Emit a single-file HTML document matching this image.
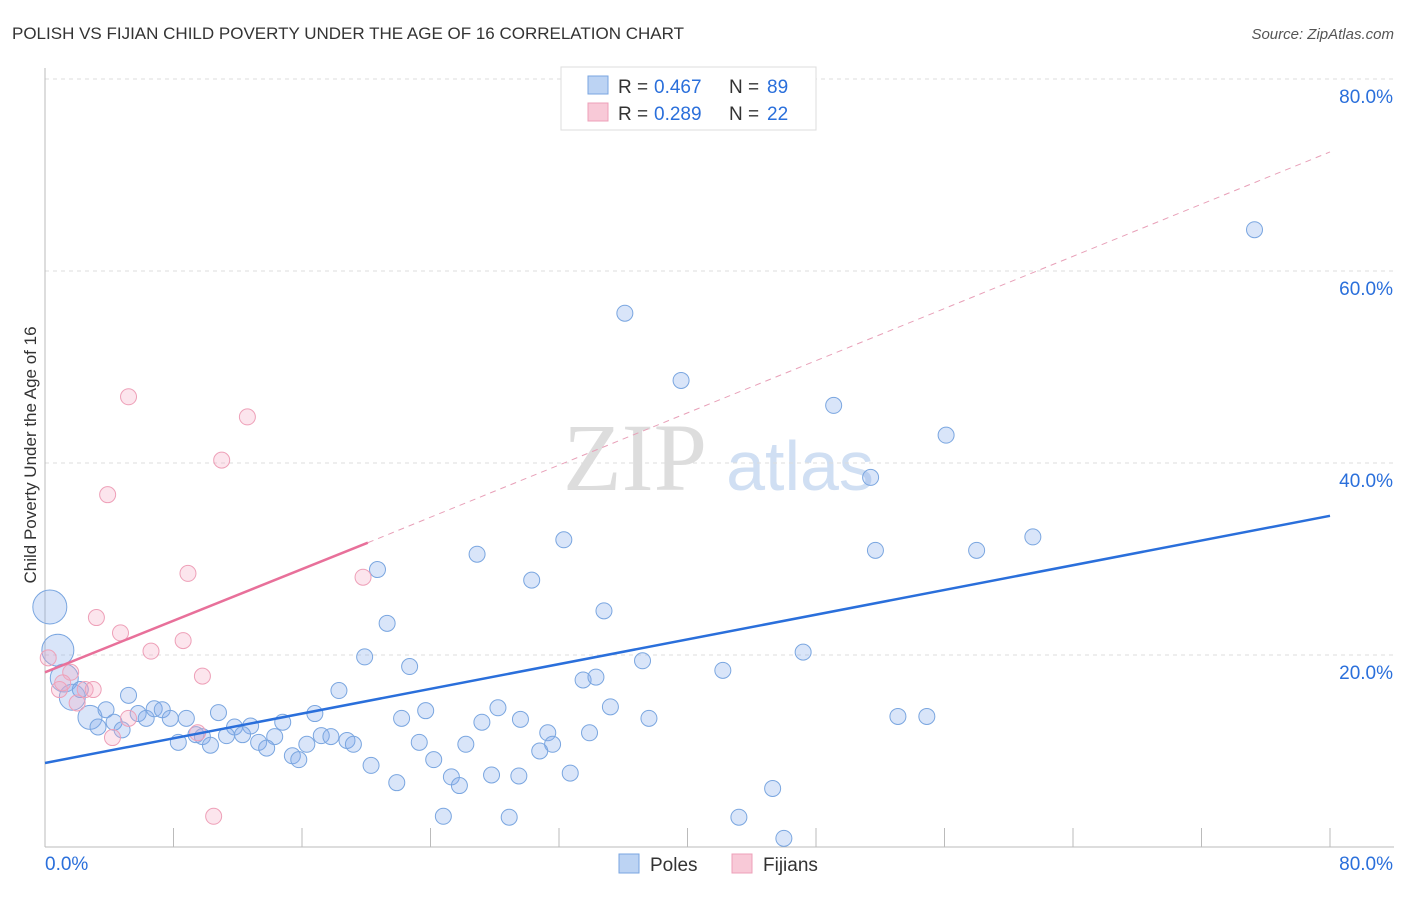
<!DOCTYPE html>
<html><head><meta charset="utf-8"><style>
body{margin:0;background:#fff;font-family:"Liberation Sans",sans-serif}
</style></head><body>
<svg id="c" width="1406" height="892" xmlns="http://www.w3.org/2000/svg" style="font-family:'Liberation Sans',sans-serif">
<text x="12" y="39" font-size="17" fill="#333">POLISH VS FIJIAN CHILD POVERTY UNDER THE AGE OF 16 CORRELATION CHART</text>
<text x="1394" y="39" font-size="15" fill="#555" text-anchor="end" font-style="italic">Source: ZipAtlas.com</text>
<text x="36" y="455" font-size="17" fill="#333" text-anchor="middle" transform="rotate(-90 36 455)">Child Poverty Under the Age of 16</text>
<text x="635" y="490" font-size="96" fill="#ddd" font-family="Liberation Serif" text-anchor="middle">ZIP</text>
<text x="800" y="490" font-size="70" fill="#d0dff3" text-anchor="middle">atlas</text>
<g id="grid"></g><g id="axes"></g><g id="pts"></g><g id="lines"></g>
<g>
<rect x="561" y="67" width="255" height="63" fill="#fff" stroke="#ddd"/>
<rect x="588" y="76" width="20" height="18" fill="#bcd3f3" stroke="#7aa6e0"/>
<text x="618" y="93" font-size="19" fill="#333">R =</text>
<text x="654" y="93" font-size="19" fill="#2a6fdb">0.467</text>
<text x="729" y="93" font-size="19" fill="#333">N =</text>
<text x="767" y="93" font-size="19" fill="#2a6fdb">89</text>
<rect x="588" y="103" width="20" height="18" fill="#f8c9d7" stroke="#eea0b8"/>
<text x="618" y="120" font-size="19" fill="#333">R =</text>
<text x="654" y="120" font-size="19" fill="#2a6fdb">0.289</text>
<text x="729" y="120" font-size="19" fill="#333">N =</text>
<text x="767" y="120" font-size="19" fill="#2a6fdb">22</text>
</g>
<g>
<rect x="619" y="854" width="20" height="19" fill="#bcd3f3" stroke="#7aa6e0"/>
<text x="650" y="871" font-size="19" fill="#333">Poles</text>
<rect x="732" y="854" width="20" height="19" fill="#f8c9d7" stroke="#eea0b8"/>
<text x="763" y="871" font-size="19" fill="#333">Fijians</text>
</g>
</svg>
<script>
const poles=[[75.3,64.3],[36.1,55.6],[39.6,48.6],[49.1,46.0],[56.1,42.9],[51.4,38.5],[32.3,32.0],[26.9,30.5],[51.7,30.9],[58.0,30.9],[61.5,32.3],[20.7,28.9],[30.3,27.8],[34.8,24.6],[21.3,23.3],[19.9,19.8],[22.7,18.8],[37.2,19.4],[42.2,18.4],[47.2,20.3],[33.5,17.4],[34.3,17.7],[18.3,16.3],[35.2,14.6],[28.2,14.5],[23.7,14.2],[16.8,13.9],[22.2,13.4],[27.2,13.0],[29.6,13.3],[37.6,13.4],[53.1,13.6],[54.9,13.6],[14.8,13.0],[31.3,11.9],[33.9,11.9],[12.8,12.6],[11.8,12.5],[10.8,14.0],[14.3,11.5],[12.3,11.7],[11.3,11.6],[17.2,11.6],[17.8,11.5],[18.8,11.1],[19.2,10.7],[16.3,10.7],[13.3,10.9],[13.8,10.3],[23.3,10.9],[26.2,10.7],[31.6,10.7],[30.8,10.0],[15.4,9.5],[15.8,9.1],[24.2,9.1],[20.3,8.5],[25.3,7.3],[25.8,6.4],[27.8,7.5],[29.5,7.4],[32.7,7.7],[21.9,6.7],[45.3,6.1],[24.8,3.2],[28.9,3.1],[43.2,3.1],[46.0,0.9],[0.3,25.0],[0.8,20.5],[1.2,17.6],[1.7,15.6],[2.2,16.4],[2.8,13.5],[3.3,12.5],[3.8,14.3],[4.3,13.0],[4.8,12.2],[5.2,15.8],[5.8,13.9],[6.3,13.4],[6.8,14.4],[7.3,14.3],[7.8,13.4],[8.3,10.9],[8.8,13.4],[9.4,11.7],[9.8,11.5],[10.3,10.6]];
const poleSizes={68:17,69:16,70:14,71:13,73:12};
const fijians=[[5.2,46.9],[12.6,44.8],[11.0,40.3],[3.9,36.7],[8.9,28.5],[19.8,28.1],[3.2,23.9],[4.7,22.3],[8.6,21.5],[6.6,20.4],[9.8,17.8],[0.2,19.7],[1.6,18.2],[0.9,16.4],[1.1,17.1],[2.5,16.4],[3.0,16.4],[2.0,15.0],[5.2,13.4],[4.2,11.4],[9.5,11.9],[10.5,3.2]];
const xTicks=[0,8,16,24,32,40,48,56,64,72,80];
const yTicks=[20,40,60,80];
const blueLine=[[0,8.75],[80,34.5]];
const pinkLine=[[0,18.2],[20.1,31.7]];
const pinkDash=[[20.1,31.7],[80,72.4]];
const X=v=>45+v*(1330-45)/80, Y=v=>847-v*9.6;
const NS="http://www.w3.org/2000/svg";
function mk(t,a,p){const e=document.createElementNS(NS,t);for(const k in a)e.setAttribute(k,a[k]);document.getElementById(p).appendChild(e);return e;}
yTicks.forEach(t=>{
 const g=mk('line',{x1:45,x2:1394,y1:Y(t),y2:Y(t),stroke:'#ddd','stroke-dasharray':'4,4'},'grid');
 
 
 const l=mk('text',{x:1393,y:Y(t)+24,'font-size':19,fill:'#2a6fdb','text-anchor':'end'},'axes');
 l.textContent=t.toFixed(1)+'%';
 
 
});
const ax=mk('line',{x1:45,x2:1394,y1:847,y2:847,stroke:'#bbb'},'axes');


const ay=mk('line',{x1:45,x2:45,y1:68,y2:847,stroke:'#bbb'},'axes');


xTicks.forEach(t=>{const e=mk('line',{x1:X(t),x2:X(t),y1:828,y2:847,stroke:'#bbb'},'axes');
 
 });
[[0,45,'start'],[80,1393,'end']].forEach(([v,x,a])=>{const l=mk('text',{x:x,y:870,'font-size':19,fill:'#2a6fdb','text-anchor':a},'axes');l.textContent=v.toFixed(1)+'%';
 
 });
poles.forEach((d,i)=>{const c=mk('circle',{cx:X(d[0]),cy:Y(d[1]),r:poleSizes[i]||8,fill:'rgba(130,170,235,0.3)',stroke:'#7aa6e0','stroke-width':1},'pts');
 
 });
fijians.forEach(d=>{const c=mk('circle',{cx:X(d[0]),cy:Y(d[1]),r:8,fill:'rgba(245,170,195,0.3)',stroke:'#eea0b8','stroke-width':1},'pts');
 
 });
const bl=mk('line',{x1:X(blueLine[0][0]),y1:Y(blueLine[0][1]),x2:X(blueLine[1][0]),y2:Y(blueLine[1][1]),stroke:'#2a6fdb','stroke-width':2.5},'lines');


const pl=mk('line',{x1:X(pinkLine[0][0]),y1:Y(pinkLine[0][1]),x2:X(pinkLine[1][0]),y2:Y(pinkLine[1][1]),stroke:'#e8709a','stroke-width':2.5},'lines');


const pd=mk('line',{x1:X(pinkDash[0][0]),y1:Y(pinkDash[0][1]),x2:X(pinkDash[1][0]),y2:Y(pinkDash[1][1]),stroke:'#e8a0b8','stroke-width':1,'stroke-dasharray':'6,5'},'lines');


</script>
</body></html>
